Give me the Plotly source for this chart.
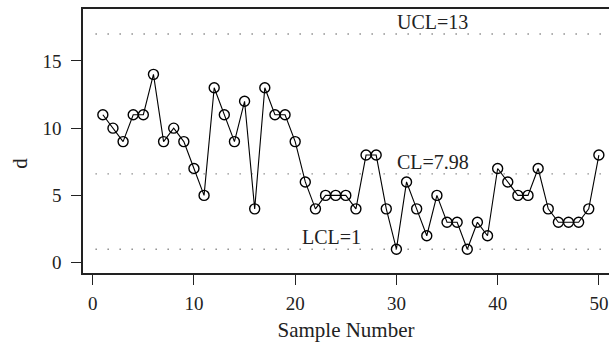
import plotly.graph_objects as go

sample = list(range(1, 51))
d_values = [11, 10, 9, 11, 11, 14, 9, 10, 9, 7,
            5, 13, 11, 9, 12, 4, 13, 11, 11, 9,
            6, 4, 5, 5, 5, 4, 8, 8, 4, 1,
            6, 4, 2, 5, 3, 3, 1, 3, 2, 7,
            6, 5, 5, 7, 4, 3, 3, 3, 4, 8]

limit_names = ["UCL", "CL", "LCL"]
limit_positions = [17, 6.6, 1]
limit_labels = ["UCL=13", "CL=7.98", "LCL=1"]
label_x = [33.6, 33.6, 23.6]

x_ticks = [0, 10, 20, 30, 40, 50]
y_ticks = [0, 5, 10, 15]

FONT = "Liberation Serif"

fig = go.Figure()

for name, yv in zip(limit_names, limit_positions):
    fig.add_shape(type="line", xref="paper", x0=0.024, x1=0.995, yref="y", y0=yv, y1=yv,
                  line=dict(color="#555555", width=1.4, dash="1px,11px"))

fig.add_trace(go.Scatter(
    x=sample, y=d_values, mode="lines+markers",
    line=dict(color="black", width=1.1),
    marker=dict(symbol="circle-open", size=10, color="black", line=dict(width=1.4)),
    showlegend=False, hoverinfo="skip",
))

for lbl, xv, yv in zip(limit_labels, label_x, limit_positions):
    fig.add_annotation(x=xv, y=yv, text=lbl, showarrow=False, xanchor="center",
                       yanchor="bottom", yshift=-1,
                       font=dict(family=FONT, size=20, color="#222222"))

fig.add_annotation(xref="paper", yref="paper", x=-0.119, y=0.415, text="d", textangle=-90,
                   showarrow=False, xanchor="center", yanchor="middle",
                   font=dict(family=FONT, size=21, color="#222222"))

fig.update_layout(
    width=609, height=345,
    margin=dict(l=83, r=0, t=9, b=72),
    paper_bgcolor="white", plot_bgcolor="white",
    font=dict(family=FONT, size=19, color="#222222"),
    xaxis=dict(range=[-0.96, 51.0], tickvals=x_ticks, ticks="outside", ticklen=10,
               tickwidth=1.3, tickcolor="#222222", showgrid=False, zeroline=False,
               showline=True, linecolor="#222222", linewidth=1.6, mirror=True,
               ticklabelstandoff=2, automargin=False,
               title=dict(text="Sample Number", font=dict(family=FONT, size=21), standoff=10)),
    yaxis=dict(range=[-0.77, 18.86], tickvals=y_ticks, ticks="outside", ticklen=10,
               tickwidth=1.3, tickcolor="#222222", showgrid=False, zeroline=False,
               showline=True, linecolor="#222222", linewidth=1.6, mirror=False,
               ticklabelstandoff=6, automargin=False),
)

fig.write_html("out.html", config={"displayModeBar": False},
               post_script="document.body.style.margin='0';")
